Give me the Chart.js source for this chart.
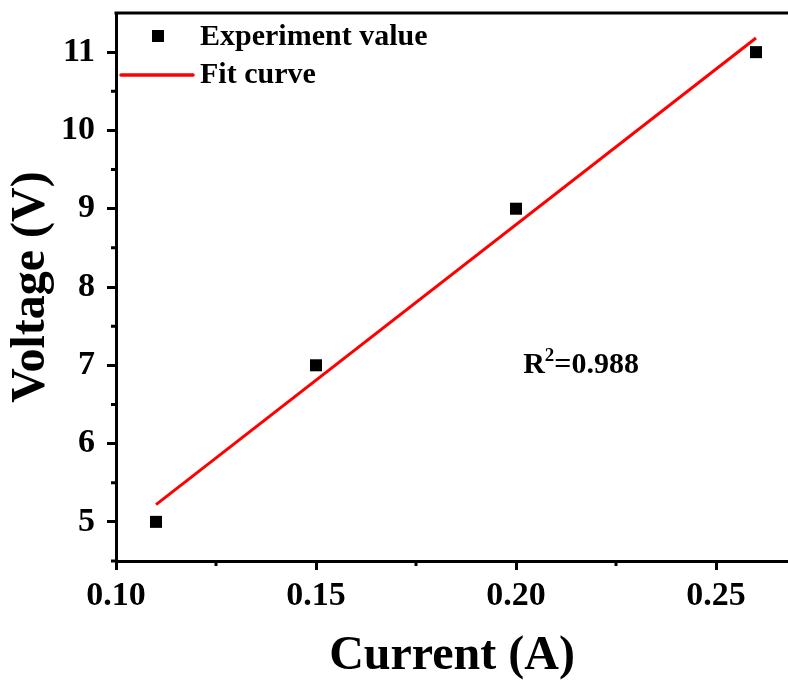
<!DOCTYPE html>
<html>
<head>
<meta charset="utf-8">
<script src="https://cdn.jsdelivr.net/npm/chart.js@4.4.1/dist/chart.umd.min.js"></script>
<style>
    html, body { margin: 0; padding: 0; background: #fff; }
    #wrap { width: 788px; height: 684px; }
</style>
</head>
<body>
<div id="wrap"><canvas id="grafico"></canvas></div>
<script>
const current = [0.11, 0.15, 0.20, 0.26];
const voltage = [5, 7, 9, 11];
const fitX = [0.11, 0.26];
const fitY = [5.22, 11.18];
const xTicks = [0.10, 0.15, 0.20, 0.25];
const xMinor = [0.125, 0.175, 0.225];
const yTicks = [5, 6, 7, 8, 9, 10, 11];
const yMinor = [4.5, 5.5, 6.5, 7.5, 8.5, 9.5, 10.5];
const r2 = '0.988';

const serif = 'Liberation Serif, Times New Roman, serif';

const extras = {
    id: 'extras',
    afterDraw(chart) {
        const { ctx, chartArea, scales: { x, y } } = chart;
        const ds = chart.data.datasets;
        ctx.save();
        ctx.strokeStyle = '#000';
        ctx.lineWidth = 3;
        ctx.beginPath();
        ctx.moveTo(chartArea.left - 1.5, chartArea.top);
        ctx.lineTo(chartArea.right, chartArea.top);
        // ticks menores
        xMinor.forEach(v => {
            const px = x.getPixelForValue(v);
            ctx.moveTo(px, chartArea.bottom);
            ctx.lineTo(px, chartArea.bottom + 5);
        });
        yMinor.forEach(v => {
            const py = y.getPixelForValue(v);
            ctx.moveTo(chartArea.left, py);
            ctx.lineTo(chartArea.left - 5, py);
        });
        ctx.stroke();

        // legenda
        const lx = chartArea.left;
        const ly = chartArea.top;
        ctx.fillStyle = '#000';
        ctx.fillRect(lx + 36, ly + 17, 12, 12);
        ctx.strokeStyle = ds[1].borderColor;
        ctx.lineWidth = 3.5;
        ctx.lineCap = 'round';
        ctx.beginPath();
        ctx.moveTo(lx + 5, ly + 62);
        ctx.lineTo(lx + 77, ly + 62);
        ctx.stroke();
        ctx.font = 'bold 30px ' + serif;
        ctx.textBaseline = 'middle';
        ctx.textAlign = 'left';
        ctx.fillText(ds[0].label, lx + 84, ly + 24);
        ctx.fillText(ds[1].label, lx + 84, ly + 62);

        // R²
        const px = x.getPixelForValue(0.2018);
        const py = y.getPixelForValue(6.9);
        ctx.textBaseline = 'alphabetic';
        ctx.font = 'bold 30px ' + serif;
        ctx.fillText('R', px, py);
        const wR = ctx.measureText('R').width;
        ctx.font = 'bold 19px ' + serif;
        ctx.fillText('2', px + wR, py - 12);
        const w2 = ctx.measureText('2').width;
        ctx.font = 'bold 30px ' + serif;
        ctx.fillText('=' + r2, px + wR + w2, py);
        ctx.restore();
    }
};

new Chart(document.getElementById('grafico').getContext('2d'), {
    type: 'scatter',
    data: {
        datasets: [
            {
                label: 'Experiment value',
                data: current.map((c, i) => ({ x: c, y: voltage[i] })),
                pointStyle: 'rect',
                pointRadius: 8.5,
                backgroundColor: '#000',
                borderWidth: 0
            },
            {
                label: 'Fit curve',
                type: 'line',
                data: fitX.map((c, i) => ({ x: c, y: fitY[i] })),
                borderColor: '#ff0000',
                borderWidth: 3,
                pointRadius: 0,
                fill: false
            }
        ]
    },
    options: {
        responsive: true, maintainAspectRatio: false,
        animation: false, devicePixelRatio: 1, events: [],
        layout: { autoPadding: false, padding: { top: 13, left: 0, right: 0, bottom: 0 } },
        plugins: {
            tooltip: { enabled: false },
            legend: { display: false }
        },
        scales: {
            x: {
                type: 'linear', min: 0.10, max: 0.268,
                afterBuildTicks: s => { s.ticks = xTicks.map(v => ({ value: v })); },
                afterFit: s => { s.height = 123; s.paddingLeft = 0; s.paddingRight = 0; },
                ticks: {
                    color: '#000', padding: 6, maxRotation: 0, autoSkip: false,
                    font: { family: serif, size: 34, weight: 'bold' },
                    callback: v => v.toFixed(2)
                },
                grid: { drawOnChartArea: false, tickLength: 9, tickWidth: 3, tickColor: '#000' },
                border: { color: '#000', width: 3 },
                title: {
                    display: true, text: 'Current (A)', color: '#000',
                    padding: { top: 0, bottom: 3 },
                    font: { family: serif, size: 48, weight: 'bold', lineHeight: 1 }
                }
            },
            y: {
                type: 'linear', min: 4.5, max: 11.5,
                afterBuildTicks: s => { s.ticks = yTicks.map(v => ({ value: v })); },
                afterFit: s => { s.width = 116; s.paddingTop = 0; s.paddingBottom = 0; },
                ticks: {
                    color: '#000', padding: 12, autoSkip: false,
                    font: { family: serif, size: 34, weight: 'bold' },
                    callback: v => String(v)
                },
                grid: { drawOnChartArea: false, tickLength: 9, tickWidth: 3, tickColor: '#000' },
                border: { color: '#000', width: 3 },
                title: {
                    display: true, text: 'Voltage (V)', color: '#000',
                    padding: { top: 8, bottom: 0 },
                    font: { family: serif, size: 48, weight: 'bold', lineHeight: 1 }
                }
            }
        }
    },
    plugins: [extras]
});
</script>
</body>
</html>
